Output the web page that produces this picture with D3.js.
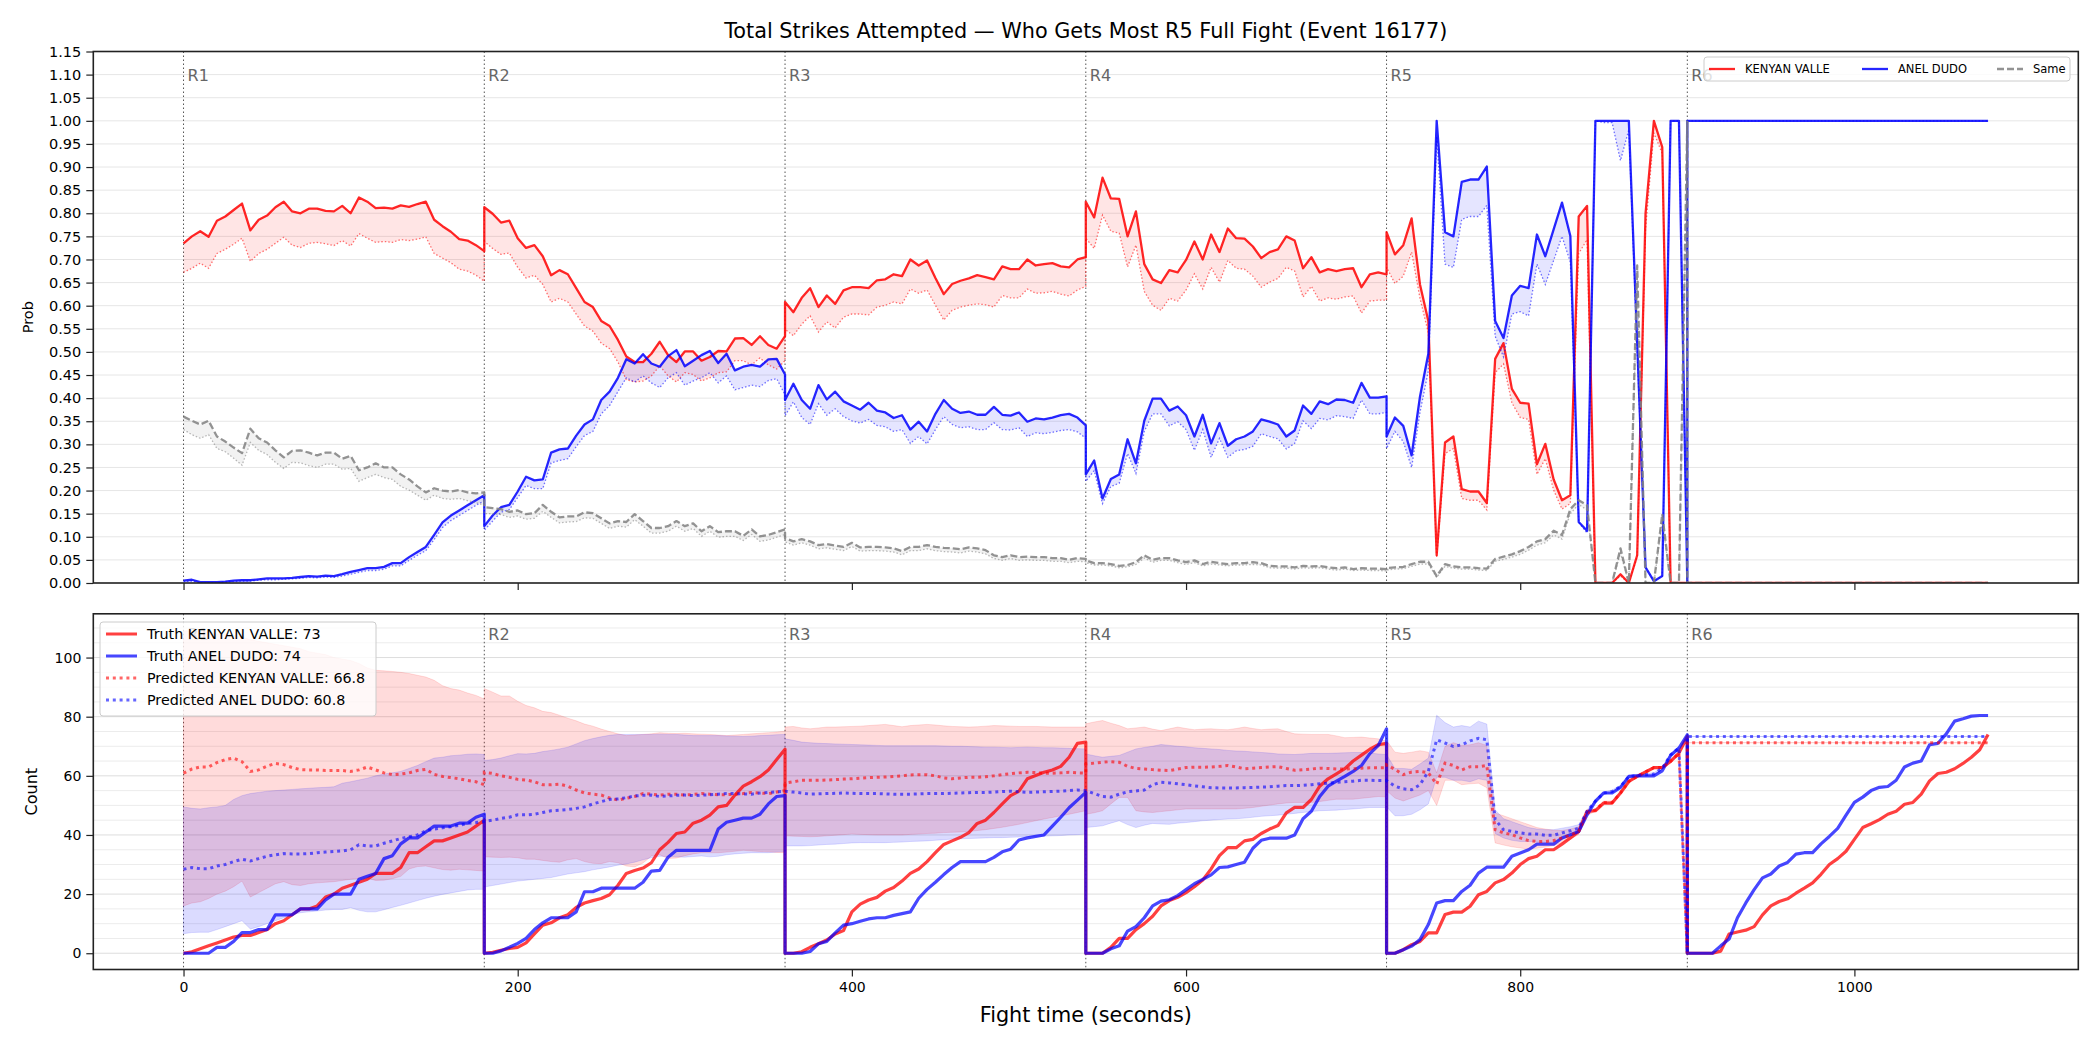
<!DOCTYPE html>
<html>
<head>
<meta charset="utf-8">
<script src="https://cdn.jsdelivr.net/npm/d3@7"></script>
<style>
  body { margin: 0; background: #fff; }
  text { font-family: "DejaVu Sans", sans-serif; }
</style>
</head>
<body>
<svg id="chart" width="2100" height="1050"></svg>
<script>
// ---- data -------------------------------------------------------------
var STEP = 5;
var roundStarts = [0, 180, 360, 540, 720, 900];
var roundLabels = ["R1", "R2", "R3", "R4", "R5", "R6"];
var timeTicks = [0, 200, 400, 600, 800, 1000];
var probTicks = [0, 0.05, 0.10, 0.15, 0.20, 0.25, 0.30, 0.35, 0.40, 0.45, 0.50, 0.55,
                 0.60, 0.65, 0.70, 0.75, 0.80, 0.85, 0.90, 0.95, 1.00, 1.05, 1.10, 1.15];
var countTicks = [0, 20, 40, 60, 80, 100];
var countGrid = [0, 5, 10, 15, 20, 25, 30, 35, 40, 45, 50, 55, 60, 65, 70, 75, 80, 85, 90, 95, 100, 105, 110];
var nameRed = "KENYAN VALLE", nameBlue = "ANEL DUDO", nameSame = "Same";
var finalRed = 73, finalBlue = 74, predRedTotal = "66.8", predBlueTotal = "60.8";

// top panel: probability (solid) and lower bound (dotted), one row per round, 5 s steps
var kvProb = [
  [0.735,0.750,0.761,0.749,0.784,0.793,0.807,0.821,0.763,0.786,0.795,0.813,0.825,0.804,0.800,0.810,0.810,0.805,0.804,0.816,0.800,0.834,0.825,0.811,0.812,0.810,0.817,0.814,0.820,0.825,0.786,0.772,0.760,0.744,0.741,0.731,0.718],
  [0.813,0.799,0.780,0.784,0.746,0.725,0.731,0.707,0.666,0.677,0.668,0.638,0.608,0.597,0.567,0.556,0.526,0.490,0.478,0.478,0.496,0.522,0.493,0.478,0.501,0.501,0.481,0.489,0.502,0.501,0.529,0.530,0.515,0.534,0.515,0.507,0.534],
  [0.608,0.586,0.617,0.638,0.597,0.622,0.604,0.633,0.640,0.640,0.638,0.655,0.657,0.668,0.664,0.700,0.687,0.698,0.660,0.625,0.647,0.654,0.659,0.666,0.662,0.657,0.685,0.679,0.679,0.700,0.687,0.690,0.692,0.685,0.683,0.700,0.705],
  [0.825,0.791,0.877,0.832,0.831,0.750,0.804,0.690,0.657,0.649,0.677,0.672,0.699,0.739,0.700,0.754,0.716,0.767,0.746,0.745,0.728,0.703,0.716,0.722,0.750,0.741,0.681,0.705,0.672,0.679,0.675,0.679,0.681,0.640,0.668,0.672,0.668],
  [0.759,0.711,0.731,0.789,0.646,0.567,0.060,0.304,0.317,0.203,0.198,0.198,0.173,0.485,0.519,0.420,0.390,0.388,0.257,0.301,0.224,0.179,0.190,0.793,0.816,0,0,0,0.019,0,0.060,0.800,1.000,0.943,0,0,0],
  [0,0,0,0,0,0,0,0,0,0,0,0,0,0,0,0,0,0,0,0,0,0,0,0,0,0,0,0,0,0,0,0,0,0,0,0,0]
];
var kvProbLow = [
  [0.672,0.681,0.692,0.681,0.713,0.722,0.733,0.746,0.696,0.713,0.722,0.735,0.748,0.731,0.726,0.735,0.737,0.734,0.730,0.741,0.729,0.756,0.746,0.737,0.739,0.737,0.743,0.741,0.744,0.749,0.713,0.703,0.693,0.679,0.675,0.666,0.653],
  [0.739,0.724,0.711,0.714,0.683,0.660,0.666,0.646,0.608,0.616,0.608,0.582,0.556,0.545,0.519,0.507,0.478,0.440,0.435,0.437,0.448,0.470,0.448,0.435,0.455,0.451,0.437,0.444,0.455,0.457,0.481,0.481,0.472,0.487,0.472,0.463,0.481],
  [0.549,0.535,0.560,0.578,0.543,0.565,0.552,0.575,0.582,0.582,0.580,0.597,0.601,0.608,0.604,0.636,0.627,0.634,0.601,0.569,0.590,0.597,0.601,0.604,0.602,0.597,0.622,0.617,0.617,0.636,0.627,0.628,0.631,0.625,0.621,0.634,0.642],
  [0.746,0.724,0.796,0.761,0.757,0.684,0.731,0.631,0.601,0.590,0.616,0.610,0.634,0.669,0.636,0.683,0.651,0.698,0.681,0.679,0.664,0.640,0.651,0.659,0.683,0.675,0.619,0.642,0.610,0.617,0.614,0.619,0.621,0.584,0.610,0.612,0.612],
  [0.683,0.648,0.664,0.716,0.616,0.541,0.055,0.280,0.291,0.183,0.179,0.179,0.158,0.455,0.474,0.390,0.358,0.354,0.235,0.269,0.201,0.160,0.172,0.713,0.743,0,0,0,0.015,0,0.056,0.765,0.974,0.929,0,0,0],
  [0,0,0,0,0,0,0,0,0,0,0,0,0,0,0,0,0,0,0,0,0,0,0,0,0,0,0,0,0,0,0,0,0,0,0,0,0]
];
var adProb = [
  [0.005,0.007,0.002,0.002,0.002,0.003,0.005,0.006,0.006,0.008,0.010,0.010,0.010,0.011,0.013,0.015,0.014,0.016,0.015,0.019,0.024,0.028,0.032,0.032,0.035,0.043,0.043,0.056,0.067,0.078,0.104,0.131,0.146,0.157,0.168,0.179,0.190],
  [0.123,0.146,0.164,0.169,0.198,0.230,0.222,0.224,0.282,0.289,0.291,0.319,0.343,0.354,0.396,0.414,0.444,0.484,0.475,0.495,0.475,0.468,0.491,0.504,0.469,0.481,0.493,0.502,0.476,0.496,0.460,0.468,0.472,0.468,0.484,0.485,0.451],
  [0.396,0.431,0.396,0.377,0.428,0.397,0.414,0.393,0.384,0.375,0.390,0.373,0.369,0.357,0.363,0.332,0.349,0.328,0.366,0.396,0.377,0.368,0.371,0.364,0.364,0.381,0.364,0.362,0.369,0.349,0.356,0.354,0.358,0.363,0.366,0.358,0.341],
  [0.235,0.265,0.183,0.225,0.235,0.311,0.259,0.351,0.399,0.399,0.373,0.382,0.363,0.317,0.364,0.302,0.346,0.297,0.311,0.317,0.328,0.354,0.349,0.343,0.317,0.330,0.384,0.366,0.393,0.387,0.397,0.396,0.390,0.433,0.401,0.401,0.404],
  [0.317,0.358,0.340,0.276,0.403,0.496,1.000,0.759,0.750,0.868,0.873,0.873,0.901,0.567,0.530,0.622,0.643,0.638,0.754,0.707,0.765,0.823,0.751,0.132,0.113,1,1,1,1,1,0.520,0.034,0.004,0.015,1,1,0],
  [1,1,1,1,1,1,1,1,1,1,1,1,1,1,1,1,1,1,1,1,1,1,1,1,1,1,1,1,1,1,1,1,1,1,1,1,1]
];
var adProbLow = [
  [0.003,0.004,0.001,0.001,0.001,0.002,0.003,0.004,0.004,0.006,0.007,0.007,0.008,0.009,0.010,0.012,0.011,0.013,0.012,0.015,0.019,0.023,0.027,0.027,0.030,0.037,0.037,0.049,0.060,0.070,0.094,0.120,0.135,0.146,0.157,0.168,0.178],
  [0.114,0.134,0.153,0.159,0.185,0.211,0.204,0.204,0.260,0.265,0.269,0.295,0.319,0.328,0.366,0.384,0.414,0.444,0.435,0.448,0.433,0.423,0.444,0.455,0.428,0.437,0.444,0.455,0.433,0.448,0.418,0.423,0.428,0.425,0.438,0.442,0.407],
  [0.362,0.392,0.358,0.343,0.388,0.363,0.377,0.360,0.351,0.346,0.354,0.341,0.338,0.328,0.332,0.302,0.317,0.301,0.332,0.360,0.343,0.336,0.338,0.332,0.332,0.347,0.332,0.331,0.336,0.317,0.325,0.323,0.326,0.330,0.332,0.327,0.313],
  [0.220,0.243,0.172,0.209,0.216,0.280,0.237,0.328,0.366,0.366,0.340,0.349,0.332,0.287,0.332,0.272,0.313,0.272,0.286,0.289,0.296,0.323,0.317,0.312,0.290,0.302,0.351,0.334,0.356,0.353,0.362,0.360,0.356,0.396,0.366,0.366,0.369],
  [0.291,0.328,0.306,0.250,0.369,0.459,0.966,0.690,0.683,0.787,0.793,0.793,0.817,0.534,0.489,0.582,0.587,0.578,0.690,0.646,0.698,0.750,0.694,0.131,0.108,1,0.996,0.996,0.914,0.981,0.500,0.034,0.004,0.015,1,1,0],
  [1,1,1,1,1,1,1,1,1,1,1,1,1,1,1,1,1,1,1,1,1,1,1,1,1,1,1,1,1,1,1,1,1,1,1,1,1]
];
var sameProb = [
  [0.360,0.351,0.343,0.351,0.317,0.306,0.293,0.281,0.334,0.313,0.304,0.287,0.272,0.286,0.287,0.282,0.276,0.282,0.282,0.269,0.275,0.244,0.250,0.259,0.250,0.250,0.235,0.224,0.209,0.196,0.205,0.200,0.198,0.201,0.196,0.194,0.196],
  [0.164,0.162,0.160,0.154,0.157,0.149,0.151,0.169,0.154,0.142,0.144,0.144,0.153,0.151,0.140,0.129,0.134,0.132,0.149,0.134,0.119,0.119,0.123,0.134,0.123,0.129,0.112,0.123,0.110,0.112,0.112,0.102,0.116,0.101,0.104,0.110,0.116],
  [0.097,0.090,0.095,0.090,0.082,0.084,0.081,0.078,0.087,0.077,0.078,0.078,0.077,0.075,0.069,0.078,0.078,0.082,0.078,0.076,0.075,0.073,0.077,0.075,0.071,0.060,0.056,0.060,0.056,0.057,0.056,0.056,0.054,0.054,0.050,0.054,0.052],
  [0.049,0.043,0.043,0.041,0.037,0.039,0.045,0.060,0.050,0.054,0.054,0.049,0.045,0.049,0.041,0.046,0.043,0.041,0.043,0.043,0.045,0.043,0.037,0.036,0.036,0.034,0.037,0.036,0.037,0.034,0.032,0.034,0.030,0.032,0.031,0.031,0.030],
  [0.032,0.034,0.035,0.041,0.046,0.046,0.015,0.041,0.036,0.034,0.034,0.032,0.031,0.052,0.057,0.062,0.069,0.078,0.090,0.095,0.113,0.104,0.160,0.179,0.168,0,0,0,0.075,0,0.687,0,0,0.149,0,0,1.000],
  [0,0,0,0,0,0,0,0,0,0,0,0,0,0,0,0,0,0,0,0,0,0,0,0,0,0,0,0,0,0,0,0,0,0,0,0,0]
];
var sameProbLow = [
  [0.332,0.321,0.313,0.321,0.291,0.284,0.270,0.255,0.304,0.287,0.278,0.261,0.248,0.261,0.260,0.254,0.250,0.257,0.257,0.246,0.248,0.220,0.228,0.235,0.228,0.224,0.209,0.201,0.190,0.179,0.190,0.183,0.181,0.183,0.178,0.174,0.168],
  [0.150,0.150,0.148,0.142,0.145,0.138,0.140,0.155,0.142,0.130,0.132,0.133,0.141,0.140,0.129,0.118,0.123,0.121,0.137,0.123,0.108,0.108,0.112,0.123,0.112,0.118,0.101,0.112,0.099,0.101,0.101,0.092,0.105,0.090,0.093,0.099,0.105],
  [0.089,0.082,0.087,0.082,0.074,0.076,0.073,0.070,0.079,0.069,0.070,0.070,0.069,0.067,0.061,0.070,0.070,0.074,0.070,0.068,0.067,0.065,0.069,0.067,0.063,0.053,0.049,0.053,0.049,0.050,0.049,0.049,0.047,0.047,0.044,0.047,0.046],
  [0.044,0.039,0.039,0.037,0.033,0.035,0.040,0.054,0.045,0.049,0.049,0.044,0.040,0.044,0.037,0.041,0.039,0.037,0.039,0.039,0.040,0.039,0.033,0.032,0.032,0.030,0.033,0.032,0.033,0.030,0.028,0.030,0.027,0.028,0.027,0.027,0.026],
  [0.028,0.030,0.031,0.036,0.041,0.041,0.012,0.036,0.032,0.030,0.030,0.028,0.027,0.047,0.051,0.056,0.062,0.071,0.082,0.087,0.104,0.095,0.150,0.170,0.158,0,0,0,0.065,0,0.650,0,0,0.135,0,0,0.950],
  [0,0,0,0,0,0,0,0,0,0,0,0,0,0,0,0,0,0,0,0,0,0,0,0,0,0,0,0,0,0,0,0,0,0,0,0,0]
];

// bottom panel: cumulative counts per round (truth), prediction and its band
var kvTruth = [
  [0,0.5,1.5,2.5,3.5,4.5,5.5,6,6,7,8,10,11,13,15,15,16,19,20,22,23,24,25,27,27,27,29,34,34,36,38,38,39,40,41,43,45],
  [0,0.3,1,1.6,2,3.5,6.5,9.5,10.3,12,13,15.5,17,17.8,18.5,19.8,23,27,28,28.8,30.6,35,37.5,40.5,41,44,45,46.7,49.5,50,53.5,56.5,58,59.7,62,65.5,69],
  [0,0,0.5,2,3.2,4.5,6.5,7.7,14,16.6,18,18.9,21,22.2,24.4,27,28.5,31,34,36.8,38,39.2,40.8,43.9,45,47.6,50.5,53.3,54.8,59,60.1,61.2,62,63.2,66.3,71,71.4],
  [0,0,0,2,5,5,8,10,12.5,16,17.8,18.9,20.5,22.5,24.8,28.5,33,35.7,35.7,38,38.5,40.5,42,43.2,47.5,49.3,49.3,52,56.5,59,60.7,62.4,65,67,69,70.5,71],
  [0,0,1.2,2.9,4,6.9,6.9,13.1,13.9,13.9,15.9,19.8,20.9,23.8,24.9,27.1,30,32,32.8,35,35,36.9,39,41.2,48,48.2,50.8,50.8,54.2,58.1,59.8,61.3,62.8,62.8,64.9,67.7,73.3],
  [0,0,0,0,0.7,6.5,7.2,7.8,9,13,16,17.5,18.4,20.3,22,23.8,26.7,30,32,34.5,38.5,42.5,43.8,45.2,47,48,50.4,51,53.8,58.3,60.8,61.2,62.4,64.2,66.3,68.8,74]
];
var adTruth = [
  [0,0,0,0,2,2,4,7,7,8,8,13,13,13,15,15,15,18,20,20,20,25,26,27,32,33,37,39,39,41,43,43,43,44,44,46,47],
  [0,0,0.8,2,3.3,5,8,10.3,12,12,12,14,20.8,20.8,22,22,22,22,22,24,27.8,28,32.5,34.8,34.8,34.8,34.8,34.8,42,44.3,45,45.7,45.7,47,50.5,53,53.3],
  [0,0,0,0.6,3.2,4,6.9,9.5,10,10.8,11.6,12,12,12.8,13.4,14,18.6,21.6,24,26.6,29,31,31,31,31,32.4,34.3,35.2,38.3,39,39.5,40,43,46,49.2,51.8,54.4],
  [0,0,0,1.5,2.5,7.5,9,12,16,17.6,18.1,19.5,21.5,23.5,25,26.5,29,29.2,30,30.8,35.5,38.2,38.9,38.9,38.9,40,45.5,48,53,56.5,58.2,59.8,61.5,63.5,67.5,70.2,75.9],
  [0,0,1.2,2.4,4.6,9.7,17,17.8,17.8,20.9,23,27.1,29.1,29.1,29.1,32.8,33.9,35,36.9,36.9,36.9,39,40.1,41.2,46.8,51.4,54.2,54.2,56.1,59.8,60,60,60,61.7,66.9,69.4,73.9],
  [0,0,0,0,2.5,4.8,12,17,21.5,25.5,26.8,29.5,30.7,33.5,34,34,37,39.5,42.2,46.7,51,52.8,55,56.1,56.4,58.5,63,64.3,65,70.5,71,74.2,78.5,79.3,80.2,80.4,80.4]
];
var kvPred = [
  [60.9,62.3,63,63,64.5,65.5,66,64.8,61.5,62,63.3,64.2,63.8,62.8,62.1,62,62,61.8,61.8,61.8,61.5,62,63,62,61,60.4,60.6,61,61.8,62.2,60.5,59.8,59.4,59,58.4,58,57],
  [61.2,60.8,60,59.5,58.8,58.6,58,57,57,57.2,56.5,55.2,54.2,53.8,53.5,52.5,51.8,52.4,53,54,53.8,53.5,53.8,53.8,53.5,53.7,54,53.8,53.6,53.6,53.8,54,54.4,54.2,54,54.5,55],
  [57.5,58,58.5,58.5,58.5,58.6,58.7,58.9,59,59.2,59.4,59.5,59.6,59.8,60,60.3,60.4,60.4,60,59.3,59,59.3,59.5,59.5,59.7,60,60.4,60.7,61,61.2,61.1,60.9,60.9,61,61.2,61,60.9],
  [64,64.3,64.6,64.8,64.6,63.2,62.5,62.3,62.1,61.9,61.8,62.3,62.8,62.9,62.9,63,63.2,63.5,63,62.4,62.6,62.8,63,63.1,62.5,61.9,62.1,62.3,62.6,62.5,62.3,62.3,62.4,62.6,62.7,62.7,62.7],
  [63.7,62.2,60.4,61.3,61.5,61,57.2,64.3,63.5,62,63.1,63.1,63.5,41.8,40.7,40.1,39,38.1,37.8,37.8,38.1,39,39.9,41.2,47.4,48.5,51,51,54.2,58.1,59.8,61.3,62.8,62.8,64.9,67.7,0],
  [71.2,71.2,71.2,71.2,71.2,71.2,71.2,71.2,71.2,71.2,71.2,71.2,71.2,71.2,71.2,71.2,71.2,71.2,71.2,71.2,71.2,71.2,71.2,71.2,71.2,71.2,71.2,71.2,71.2,71.2,71.2,71.2,71.2,71.2,71.2,71.2,71.2]
];
var adPred = [
  [28.4,29,28.6,28.6,29.5,30,31,31.8,31.2,32,32.8,33.3,33.7,33.6,33.6,33.7,34,34.2,34.4,34.6,35,36.7,36.3,36.3,37.2,38,38.8,39.4,40,41.4,42,42.4,42.8,43.3,43.9,44.2,44.6],
  [44.6,45,45.6,46,46.8,46.8,47,47.6,48.2,48.4,48.6,49,49.5,50.5,51.3,52,52.2,52.6,53.2,53.4,53.5,53,53.2,53.4,53.5,53.3,53.5,53.6,53.8,54,54,53.9,53.8,54.2,54.4,54.6,54.8],
  [54.8,54.5,54.2,53.8,53.9,54,54.1,54.2,54.1,54,54,54,53.9,53.8,53.8,53.8,53.9,54,54,54,54.1,54.2,54.3,54.4,54.4,54.5,54.7,54.8,54.6,54.4,54.5,54.6,54.7,54.8,55,55.2,55],
  [55,54,53,52.8,53.8,54.6,54.9,55.2,57,57.8,57.6,57.3,57,56.6,56.3,56,55.9,55.9,55.9,56,56.1,56.2,56.3,56.5,56.7,56.7,56.8,57,57.3,57.5,57.8,58,58.2,58.5,58.5,58.4,58.4],
  [58.4,56.5,55.6,55.3,57,61.5,72.2,71.1,69.9,70.5,71.8,72.7,72.2,45.2,41.8,41.2,40.7,40.3,40.3,39.9,39.9,40.7,41.4,42.3,48,51.4,54.2,54.7,56.4,59.8,60.1,60.4,60.6,62.6,67.1,69.4,0],
  [73.3,73.3,73.3,73.3,73.3,73.3,73.3,73.3,73.3,73.3,73.3,73.3,73.3,73.3,73.3,73.3,73.3,73.3,73.3,73.3,73.3,73.3,73.3,73.3,73.3,73.3,73.3,73.3,73.3,73.3,73.3,73.3,73.3,73.3,73.3,73.3,73.3]
];
var kvPredHi = [
  [109,109,109,108.5,108,108,107.5,107,106,105.5,105,104.5,104,103.5,103,102,101.5,101,100,99.5,99,98,96.5,95.7,95.5,95.3,95,94.6,94,93.4,92.3,90.5,89.5,89,88,87.2,86],
  [89.5,88.3,87,87,85.2,83.8,83,81.8,81.4,80.5,79.5,78.6,77.5,76.8,75.8,75,74.2,73.6,73.8,74,74.2,74.6,74.4,74.3,74.4,74.2,74.1,74,73.8,73.6,73.8,74,74.2,74.4,74.6,74.8,75.1],
  [76.5,76.7,76.2,75.9,76.2,76.5,76.5,76.6,76.7,76.8,77,77.2,77.4,77,76.6,77,77.2,77.4,77.2,76.9,76.7,76.6,76.5,76.6,76.8,77,76.9,76.8,76.7,76.7,76.7,76.6,76.5,76.5,76.5,76.5,76.5],
  [77.6,78.2,78.7,77.8,77,75.9,76.2,76.5,75.8,75.3,75.9,76.5,76,75.6,75.8,75.9,75.7,75.6,76,76.5,76,75.6,75.8,75.9,75,74.2,74.1,74,74,74,73.5,72.9,73,73.1,72.8,72.5,71.7],
  [72,68,67.6,68,68.5,68,61,70,71.2,70.3,70.5,71.2,70.3,47.4,46.5,45.5,44.5,43.5,42.5,42,41.6,41.5,42,42.8,48.2,48.8,51.5,51.5,54.5,58.4,60.1,61.6,63.1,63.2,65.3,68.1,0],
  [71.2,71.2,71.2,71.2,71.2,71.2,71.2,71.2,71.2,71.2,71.2,71.2,71.2,71.2,71.2,71.2,71.2,71.2,71.2,71.2,71.2,71.2,71.2,71.2,71.2,71.2,71.2,71.2,71.2,71.2,71.2,71.2,71.2,71.2,71.2,71.2,71.2]
];
var kvPredLo = [
  [16,17,17.4,18.5,20,21,22.5,24.4,19,20.5,22,23.5,24.2,23.2,22.9,23.5,23.8,24,24.2,24.6,25,25.3,25.4,24.6,24.7,25.2,26,28.5,29.3,29.5,28.9,28.3,28.1,28.4,28.2,28,27.8],
  [32.6,32.5,32.4,32.5,32.3,31.8,31.8,31.4,31,30.8,31.6,32,31,30.4,30.3,31,30.6,29.5,29.2,30.5,32.9,33.3,32,32.2,33,33.6,34,34,34,34.2,34.5,34.8,34.6,34.4,34.3,34.1,34],
  [39.7,39.6,39.5,39.4,39.5,39.7,39.9,40.1,40.3,40.2,40.1,40,40,40,40,40.2,40.3,40.5,40.6,40.8,40.9,41,41.2,41.5,41.8,42.2,42.6,43.1,43.6,44.2,44.8,45.4,45.9,46.5,47,47.6,48.2],
  [47,47.5,48.2,50.5,52.7,52.7,48.2,47.8,47.6,47.9,48.2,48.5,48.8,48.8,48.8,48.8,48.8,48.8,48.8,49,49.3,49.7,50.1,50.5,50.8,51,51,51,51.3,51.7,52.1,52.1,52.1,52.4,52.7,53,52.9],
  [55,52.5,51.5,52.5,53.5,55,50,58.5,58.5,57,57.3,57.5,56,37.3,36.6,36,35.6,35.2,35.5,35.9,36.4,37.4,38.5,40.2,46.6,48,50.5,50.5,53.9,57.8,59.5,61,62.5,62.5,64.6,67.3,0],
  [71.2,71.2,71.2,71.2,71.2,71.2,71.2,71.2,71.2,71.2,71.2,71.2,71.2,71.2,71.2,71.2,71.2,71.2,71.2,71.2,71.2,71.2,71.2,71.2,71.2,71.2,71.2,71.2,71.2,71.2,71.2,71.2,71.2,71.2,71.2,71.2,71.2]
];
var adPredHi = [
  [49.5,49,48.8,49.2,49.5,50,52,53.3,54,54.4,54.8,55,55.2,55.4,55.6,55.8,56,56.1,56.3,57.5,58,58.6,59.2,60,60.6,61,61.5,62.5,63.5,64.8,66,66.3,66.8,67,67.3,67.4,67.2],
  [65.2,65.5,66,66.8,67.5,67.4,67.6,68.2,68.6,69.1,69.7,70.8,71.9,72.6,73.2,73.7,74,74,74,74,74,74.1,74,74,73.8,73.6,73.6,73.6,73.6,73.5,73.4,73.3,73.4,73.6,73.7,73.9,74],
  [72.5,72,71.4,71.2,71,70.9,70.8,70.7,70.6,70.5,70.4,70.3,70.2,70.2,70.2,70.2,70.2,70.2,70.2,70.1,70,70,69.9,69.8,69.7,69.7,69.6,69.5,69.6,69.7,69.6,69.5,69.5,69.4,69.3,69.2,69.1],
  [67.4,66.8,66.3,66.6,66.9,68,69.1,69.6,70,70.6,70.3,70,69.8,69.5,69.3,69.1,68.9,68.6,68.4,68.3,68.1,67.9,67.7,67.4,67.3,67.2,67.4,67.6,67.6,67.6,67.7,67.8,67.9,67.9,67.7,67.4,67.2],
  [67.2,62.5,62.5,62.2,64,66,80.5,78,76.5,77,76.5,78.5,77.5,48.5,45.5,44.5,43.5,42.5,42,41.8,41.8,42.3,42.8,43.5,48.5,51.8,54.6,55.2,56.8,60.2,60.5,60.8,61,63,67.5,69.8,0],
  [73.3,73.3,73.3,73.3,73.3,73.3,73.3,73.3,73.3,73.3,73.3,73.3,73.3,73.3,73.3,73.3,73.3,73.3,73.3,73.3,73.3,73.3,73.3,73.3,73.3,73.3,73.3,73.3,73.3,73.3,73.3,73.3,73.3,73.3,73.3,73.3,73.3]
];
var adPredLo = [
  [6.6,7,7.1,7.1,8,9,10,11,8.2,9,10,11,12,13,13.7,14,14.3,14.6,14.8,14.8,15.4,14.5,14,14,14.7,15.5,16.2,17,17.8,18.6,19.3,19.9,20.4,20.9,21.4,21.6,21.6],
  [22.4,22.9,23.4,23.9,24.4,24.7,25,25.3,25.6,26.2,26.8,27.2,27.6,28.2,28.7,29.2,29.8,30.2,30.8,31.6,32.3,32.8,32.7,32.6,32.5,32.7,32.9,32.6,32.8,33.3,33.6,33.8,34,34,34,34.2,34.4],
  [36.3,36.3,36.3,36.4,36.6,36.8,36.9,37.1,37.3,37.4,37.4,37.4,37.4,37.5,37.6,37.8,37.9,38,38.2,38.4,38.6,38.7,38.8,38.9,39,39.1,39.1,39.2,39.3,39.4,39.5,39.6,39.7,39.8,40,40.1,40.3],
  [42.5,42.8,43.1,44,44.8,43.5,42.5,43.3,43.9,43.7,43.6,44,44.2,44.5,44.8,45,45.2,45.4,45.5,45.7,46,46.3,46.5,46.7,47,47.3,47.6,47.9,48.2,48.3,48.4,48.6,48.8,49,49.3,49.3,49.3],
  [49.5,46.5,46.5,47,48.5,50.5,59.5,59.5,58.5,58.5,58,59,58.5,40.5,39,38.2,37.8,37.8,37.7,37.5,37.5,38.5,39.8,41,47.4,51,53.8,54.2,56,59.4,59.7,60,60.2,62.2,66.7,69,0],
  [73.3,73.3,73.3,73.3,73.3,73.3,73.3,73.3,73.3,73.3,73.3,73.3,73.3,73.3,73.3,73.3,73.3,73.3,73.3,73.3,73.3,73.3,73.3,73.3,73.3,73.3,73.3,73.3,73.3,73.3,73.3,73.3,73.3,73.3,73.3,73.3,73.3]
];

// ---- helpers ---------------------------------------------------------
var FONT = "DejaVu Sans, sans-serif";
var RED = "#ff0000", BLUE = "#0000ff", GRAY = "#808080";

// flatten per-round arrays into {t, v} points (round boundary points repeat t)
function toPoints(rounds) {
    var pts = [];
    rounds.forEach(function(vals, r) {
        vals.forEach(function(v, i) { pts.push({ t: roundStarts[r] + i * STEP, v: v }); });
    });
    return pts;
}
function toBand(hi, lo) {
    var pts = [];
    hi.forEach(function(vals, r) {
        vals.forEach(function(v, i) { pts.push({ t: roundStarts[r] + i * STEP, hi: v, lo: lo[r][i] }); });
    });
    return pts;
}

var svg = d3.select("#chart");

var x = d3.scaleLinear().domain([-54, 1134]).range([93.3, 2078.3]);
var topBox = { top: 51.5, bottom: 583 };
var botBox = { top: 613.8, bottom: 969.5 };
var yTop = d3.scaleLinear().domain([0, 1.15]).range([topBox.bottom, topBox.top]);
var yBot = d3.scaleLinear().domain([-5.5, 114.8]).range([botBox.bottom, botBox.top]);

var defs = svg.append("defs");
defs.append("clipPath").attr("id", "clipTop").append("rect")
    .attr("x", x.range()[0]).attr("y", topBox.top)
    .attr("width", x.range()[1] - x.range()[0]).attr("height", topBox.bottom - topBox.top);
defs.append("clipPath").attr("id", "clipBot").append("rect")
    .attr("x", x.range()[0]).attr("y", botBox.top)
    .attr("width", x.range()[1] - x.range()[0]).attr("height", botBox.bottom - botBox.top);

// Title
svg.append("text")
    .attr("x", (x.range()[0] + x.range()[1]) / 2).attr("y", 38)
    .attr("text-anchor", "middle").attr("font-size", 20.8).attr("fill", "#000")
    .text("Total Strikes Attempted \u2014 Who Gets Most R5 Full Fight (Event 16177)");

// ---- top panel -------------------------------------------------------
var gTop = svg.append("g");

// grid
gTop.selectAll("line.grid").data(probTicks).enter().append("line")
    .attr("x1", x.range()[0]).attr("x2", x.range()[1])
    .attr("y1", function(d) { return yTop(d); }).attr("y2", function(d) { return yTop(d); })
    .attr("stroke", "#e6e6e6").attr("stroke-width", 1);

var plotTop = gTop.append("g").attr("clip-path", "url(#clipTop)");

var lineTop = d3.line().x(function(d) { return x(d.t); }).y(function(d) { return yTop(d.v); });
var areaTop = d3.area().x(function(d) { return x(d.t); })
    .y0(function(d) { return yTop(d.lo); }).y1(function(d) { return yTop(d.hi); });

// round markers
roundStarts.forEach(function(s, r) {
    plotTop.append("line")
        .attr("x1", x(s)).attr("x2", x(s)).attr("y1", topBox.top).attr("y2", topBox.bottom)
        .attr("stroke", "#555").attr("stroke-width", 1).attr("stroke-dasharray", "1.5,2.5");
    plotTop.append("text")
        .attr("x", x(s) + 4).attr("y", yTop(1.10) + 6)
        .attr("font-size", 16).attr("fill", "#666").text(roundLabels[r]);
});

var topSeries = [
    { hi: kvProb, lo: kvProbLow, color: RED, fill: "rgba(255,0,0,0.1)" },
    { hi: adProb, lo: adProbLow, color: BLUE, fill: "rgba(0,0,255,0.1)" },
    { hi: sameProb, lo: sameProbLow, color: GRAY, fill: "rgba(128,128,128,0.1)", dashed: true }
];
topSeries.forEach(function(s) {
    plotTop.append("path").datum(toBand(s.hi, s.lo))
        .attr("d", areaTop).attr("fill", s.fill).attr("stroke", "none");
});
topSeries.forEach(function(s) {
    plotTop.append("path").datum(toPoints(s.lo))
        .attr("d", lineTop).attr("fill", "none")
        .attr("stroke", s.color).attr("stroke-opacity", 0.55)
        .attr("stroke-width", 1.3).attr("stroke-dasharray", "1.5,2");
    plotTop.append("path").datum(toPoints(s.hi))
        .attr("d", lineTop).attr("fill", "none")
        .attr("stroke", s.color).attr("stroke-opacity", 0.85)
        .attr("stroke-width", 2.3)
        .attr("stroke-dasharray", s.dashed ? "7,3" : null)
        .attr("stroke-linejoin", "round");
});

// axes top
var axTopY = gTop.append("g").attr("transform", "translate(" + x.range()[0] + ",0)")
    .call(d3.axisLeft(yTop).tickValues(probTicks).tickFormat(d3.format(".2f")).tickSize(7).tickPadding(5));
var axTopX = gTop.append("g").attr("transform", "translate(0," + topBox.bottom + ")")
    .call(d3.axisBottom(x).tickValues(timeTicks).tickFormat("").tickSize(7));

gTop.append("rect")
    .attr("x", x.range()[0]).attr("y", topBox.top)
    .attr("width", x.range()[1] - x.range()[0]).attr("height", topBox.bottom - topBox.top)
    .attr("fill", "none").attr("stroke", "#222").attr("stroke-width", 1.6);

gTop.append("text")
    .attr("transform", "translate(33," + ((topBox.top + topBox.bottom) / 2) + ") rotate(-90)")
    .attr("text-anchor", "middle").attr("font-size", 14.5).attr("fill", "#000").text("Prob");

// top legend
var lgT = gTop.append("g");
lgT.append("rect").attr("x", 1704).attr("y", 57).attr("width", 366).attr("height", 24).attr("rx", 3)
    .attr("fill", "#fff").attr("fill-opacity", 0.8).attr("stroke", "#cccccc").attr("stroke-width", 1);
var topLegend = [
    { label: nameRed, color: RED, x: 1709, dash: null },
    { label: nameBlue, color: BLUE, x: 1862, dash: null },
    { label: nameSame, color: GRAY, x: 1997, dash: "7,3" }
];
topLegend.forEach(function(e) {
    lgT.append("line").attr("x1", e.x).attr("x2", e.x + 26).attr("y1", 69).attr("y2", 69)
        .attr("stroke", e.color).attr("stroke-opacity", 0.85).attr("stroke-width", 2.3)
        .attr("stroke-dasharray", e.dash);
    lgT.append("text").attr("x", e.x + 36).attr("y", 73).attr("font-size", 11.5)
        .attr("fill", "#000").text(e.label);
});

// ---- bottom panel ----------------------------------------------------
var gBot = svg.append("g");

gBot.selectAll("line.grid").data(countGrid).enter().append("line")
    .attr("x1", x.range()[0]).attr("x2", x.range()[1])
    .attr("y1", function(d) { return yBot(d); }).attr("y2", function(d) { return yBot(d); })
    .attr("stroke", function(d) { return d % 20 === 0 ? "#dddddd" : "#ececec"; })
    .attr("stroke-width", 1);

var plotBot = gBot.append("g").attr("clip-path", "url(#clipBot)");

var lineBot = d3.line().x(function(d) { return x(d.t); }).y(function(d) { return yBot(d.v); });
var areaBot = d3.area().x(function(d) { return x(d.t); })
    .y0(function(d) { return yBot(d.lo); }).y1(function(d) { return yBot(d.hi); });

roundStarts.forEach(function(s, r) {
    plotBot.append("line")
        .attr("x1", x(s)).attr("x2", x(s)).attr("y1", botBox.top).attr("y2", botBox.bottom)
        .attr("stroke", "#555").attr("stroke-width", 1).attr("stroke-dasharray", "1.5,2.5");
    plotBot.append("text")
        .attr("x", x(s) + 4).attr("y", yBot(108) + 6)
        .attr("font-size", 16).attr("fill", "#666").text(roundLabels[r]);
});

plotBot.append("path").datum(toBand(kvPredHi, kvPredLo)).attr("d", areaBot)
    .attr("fill", "rgba(255,0,0,0.14)").attr("stroke", "rgba(255,0,0,0.12)").attr("stroke-width", 1);
plotBot.append("path").datum(toBand(adPredHi, adPredLo)).attr("d", areaBot)
    .attr("fill", "rgba(0,0,255,0.14)").attr("stroke", "rgba(0,0,255,0.12)").attr("stroke-width", 1);

plotBot.append("path").datum(toPoints(kvTruth)).attr("d", lineBot).attr("fill", "none")
    .attr("stroke", RED).attr("stroke-opacity", 0.75).attr("stroke-width", 3.2).attr("stroke-linejoin", "round");
plotBot.append("path").datum(toPoints(adTruth)).attr("d", lineBot).attr("fill", "none")
    .attr("stroke", BLUE).attr("stroke-opacity", 0.72).attr("stroke-width", 3.2).attr("stroke-linejoin", "round");
plotBot.append("path").datum(toPoints(kvPred)).attr("d", lineBot).attr("fill", "none")
    .attr("stroke", RED).attr("stroke-opacity", 0.6).attr("stroke-width", 3).attr("stroke-dasharray", "3,3.8");
plotBot.append("path").datum(toPoints(adPred)).attr("d", lineBot).attr("fill", "none")
    .attr("stroke", BLUE).attr("stroke-opacity", 0.6).attr("stroke-width", 3).attr("stroke-dasharray", "3,3.8");

var axBotY = gBot.append("g").attr("transform", "translate(" + x.range()[0] + ",0)")
    .call(d3.axisLeft(yBot).tickValues(countTicks).tickFormat(d3.format("d")).tickSize(7).tickPadding(5));
var axBotX = gBot.append("g").attr("transform", "translate(0," + botBox.bottom + ")")
    .call(d3.axisBottom(x).tickValues(timeTicks).tickFormat(d3.format("d")).tickSize(7).tickPadding(6));

gBot.append("rect")
    .attr("x", x.range()[0]).attr("y", botBox.top)
    .attr("width", x.range()[1] - x.range()[0]).attr("height", botBox.bottom - botBox.top)
    .attr("fill", "none").attr("stroke", "#222").attr("stroke-width", 1.6);

gBot.append("text")
    .attr("transform", "translate(37," + ((botBox.top + botBox.bottom) / 2) + ") rotate(-90)")
    .attr("text-anchor", "middle").attr("font-size", 16).attr("fill", "#000").text("Count");

svg.append("text")
    .attr("x", (x.range()[0] + x.range()[1]) / 2).attr("y", 1022)
    .attr("text-anchor", "middle").attr("font-size", 20.8).attr("fill", "#000")
    .text("Fight time (seconds)");

// bottom legend (drawn over the faint R1 marker, as in the original)
var lgB = gBot.append("g");
lgB.append("rect").attr("x", 100).attr("y", 622).attr("width", 276).attr("height", 94).attr("rx", 3)
    .attr("fill", "#fff").attr("fill-opacity", 0.8).attr("stroke", "#cccccc").attr("stroke-width", 1);
var botLegend = [
    { label: "Truth " + nameRed + ": " + finalRed, color: RED, op: 0.75, dash: null },
    { label: "Truth " + nameBlue + ": " + finalBlue, color: BLUE, op: 0.72, dash: null },
    { label: "Predicted " + nameRed + ": " + predRedTotal, color: RED, op: 0.6, dash: "3,3.8" },
    { label: "Predicted " + nameBlue + ": " + predBlueTotal, color: BLUE, op: 0.6, dash: "3,3.8" }
];
botLegend.forEach(function(e, i) {
    var yy = 634 + i * 22;
    lgB.append("line").attr("x1", 106).attr("x2", 137).attr("y1", yy).attr("y2", yy)
        .attr("stroke", e.color).attr("stroke-opacity", e.op).attr("stroke-width", 3)
        .attr("stroke-dasharray", e.dash);
    lgB.append("text").attr("x", 147).attr("y", yy + 5).attr("font-size", 14.3)
        .attr("fill", "#000").text(e.label);
});

// axis styling
[axTopY, axTopX, axBotY, axBotX].forEach(function(g) {
    g.select(".domain").remove();
    g.selectAll(".tick line").attr("stroke", "#222").attr("stroke-width", 1.2);
    g.selectAll(".tick text").attr("font-family", FONT).attr("font-size", 14).attr("fill", "#000");
});
axTopY.selectAll(".tick text").attr("font-size", 14.5);
</script>
</body>
</html>
